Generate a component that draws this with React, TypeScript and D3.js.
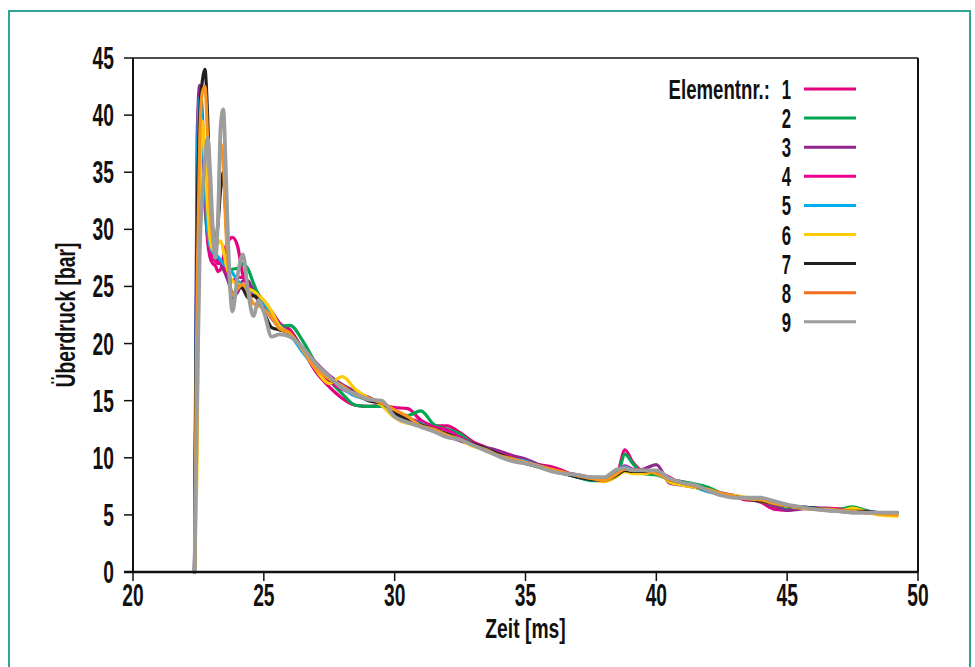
import * as d3 from 'd3';

// Zeitpunkte [ms]
const times = [
  22.35, 22.45, 22.55, 22.65, 22.75, 22.85, 22.95, 23.05, 23.15, 23.25, 23.35, 23.45, 23.55, 23.65,
  23.8, 24.0, 24.2, 24.4, 24.6, 24.8, 25.0, 25.3, 25.6,
  26.0, 26.5, 27.0, 27.5, 28.0, 28.5, 29.0, 29.5, 30.0, 30.5, 31.0, 31.5, 32.0, 32.5,
  33.0, 33.5, 34.0, 34.5, 35.0, 35.5, 36.0, 36.5, 37.0, 37.5, 38.0, 38.5,
  38.8, 39.1, 39.5,
  40.0, 40.5, 41.0, 41.5, 42.0, 42.5, 43.0, 43.5, 44.0, 44.5, 45.0, 45.5, 46.0, 46.5, 47.0, 47.5, 48.0, 48.5,
  49.2,
];

// Überdruck [bar] je Element
const element1 = [
  0, 30, 40, 38, 33, 29, 27.5, 27, 26.8, 26.3, 26.5, 27.5, 28.5, 29,
  29.3, 28.5, 26, 25.2, 24.8, 24.3, 23.6, 22.8, 21.8,
  21.2, 19.4, 17.5, 16.2, 15.2, 14.6, 14.5, 14.6, 14.4, 14.3, 13.3, 12.8, 12.8, 12.2,
  11.4, 10.9, 10.3, 9.8, 9.6, 9.4, 9.2, 8.8, 8.3, 8.1, 8.1, 8.6,
  10.7, 9.6, 8.8,
  8.6, 8.1, 7.9, 7.6, 7.2, 6.8, 6.6, 6.4, 6.1, 5.5, 5.4, 5.6, 5.5, 5.5, 5.4, 5.4, 5.2, 5.2,
  5.2,
];
const element2 = [
  0, 28, 39, 37, 32, 29.5, 28.5, 28, 27.8, 27.5, 27, 26.8, 26.5, 26.3,
  26.5, 26.6, 27, 26.5, 25.3, 24.2, 23.4, 22.5, 21.5,
  21.6, 20.2, 18.2, 16.8, 15.6, 14.6, 14.5, 14.5, 13.8, 13.7, 14.1, 12.9, 12.5, 12.1,
  11.2, 10.8, 10.2, 9.8, 9.5, 9.2, 8.9, 8.6, 8.3, 8.0, 8.0, 8.4,
  10.3, 9.5, 8.6,
  8.5, 8.1, 7.9, 7.7, 7.4, 6.9, 6.6, 6.4, 6.2, 5.8, 5.5, 5.6, 5.6, 5.5, 5.5, 5.7, 5.4, 5.2,
  5.2,
];
const element3 = [
  0, 38, 42.6, 40, 34, 30, 28.5, 28, 27.5, 27.2, 27, 26.5, 26, 25.4,
  24.2, 24.5, 25.5, 25.5, 24.5, 23.8, 23.3, 22.2, 21.4,
  20.9, 19.6, 18.3, 17.2, 16.4, 15.8, 15.3, 14.7, 13.9, 13.2, 12.9, 12.5, 11.9, 11.5,
  11.1, 10.9, 10.6, 10.2, 9.9, 9.4, 9.0, 8.7, 8.5, 8.3, 8.2, 8.6,
  9.0, 8.9, 9.0,
  9.4, 7.8, 7.6, 7.4, 7.2, 6.9, 6.7, 6.4, 6.2, 5.8, 5.4, 5.5, 5.6, 5.4, 5.3, 5.2, 5.2, 5.2,
  5.2,
];
const element4 = [
  0, 32, 41, 38, 33, 29.5, 28, 27.5, 27.2, 27, 27.2, 27, 26.5, 26,
  25.5, 25.8, 25.8, 25, 24.3, 23.8, 23.2, 22.4, 21.6,
  21.0, 19.5, 17.8, 16.7, 16.0, 15.6, 15.2, 14.7, 14.1, 13.5, 13.1, 12.7, 12.4, 11.8,
  11.2, 10.8, 10.4, 10.0, 9.6, 9.3, 8.9, 8.6, 8.4, 8.2, 8.1, 8.8,
  9.3, 9.0, 8.9,
  8.8, 8.3, 7.7, 7.5, 7.1, 6.8, 6.6, 6.3, 6.3, 6.0, 5.8, 5.7, 5.6, 5.6, 5.5, 5.4, 5.3, 5.2,
  5.2,
];
const element5 = [
  0, 35, 41.5, 39, 34, 30, 28.5, 28, 27.8, 27.6, 27.3, 27, 26.8, 26.6,
  26.2, 25.5, 25, 24.8, 24.5, 24, 23.5, 22.6, 21.6,
  20.8, 19.2, 17.9, 17.0, 16.1, 15.4, 15.1, 14.6, 13.8, 13.3, 13.0, 12.4, 12.1, 11.6,
  11.1, 10.8, 10.3, 9.9, 9.7, 9.3, 8.9, 8.6, 8.3, 8.1, 8.0, 8.9,
  9.2, 8.9, 8.8,
  8.7, 8.0, 7.7, 7.4, 7.0, 6.8, 6.6, 6.4, 6.2, 6.0, 5.8, 5.7, 5.6, 5.5, 5.4, 5.5, 5.3, 5.2,
  5.1,
];
const element6 = [
  0, 10, 33, 39.5, 36, 32, 29, 28.2, 28.5, 28.8, 29, 28.2, 27, 26.2,
  25.5, 25.2, 25, 24.8, 24.6, 24.2, 23.8, 22.8, 21.5,
  20.9, 19.4, 17.7, 16.5, 17.1, 16.0, 15.2, 14.6, 13.5, 13.0, 12.9, 12.3, 12.0, 11.6,
  11.0, 10.7, 10.2, 9.9, 9.5, 9.2, 8.8, 8.6, 8.4, 8.2, 7.9, 8.4,
  8.8, 8.6, 8.6,
  8.8, 7.9, 7.6, 7.4, 7.2, 6.8, 6.7, 6.5, 6.2, 6.0, 5.8, 5.6, 5.5, 5.4, 5.3, 5.6, 5.3, 5.0,
  4.9,
];
const element7 = [
  0, 30, 40, 43, 44, 40, 33, 30, 29, 30.5, 33.5, 35, 31, 27,
  24, 25, 24.8, 24, 24.2, 23.8, 22.8, 21.4, 21.2,
  20.9, 19.5, 17.9, 16.9, 16.2, 15.6, 15.0, 14.8, 13.9, 13.4, 12.9, 12.5, 12.1, 11.6,
  11.2, 10.8, 10.3, 9.9, 9.5, 9.2, 8.9, 8.6, 8.3, 8.1, 8.0, 8.5,
  8.9, 8.8, 8.8,
  8.7, 8.1, 7.8, 7.5, 7.1, 6.8, 6.6, 6.4, 6.2, 6.0, 5.8, 5.7, 5.6, 5.5, 5.4, 5.3, 5.3, 5.2,
  5.2,
];
const element8 = [
  0, 25, 38, 42, 42.5, 38, 32, 29, 28, 31, 37.5, 36, 30, 26.5,
  24.2, 24.8, 25.2, 24.5, 23.5, 23.3, 23.0, 22.3, 21.3,
  20.9, 19.4, 17.8, 16.9, 16.3, 15.5, 15.2, 14.8, 14.2, 13.6, 12.8, 12.5, 12.0, 11.6,
  11.1, 10.7, 10.2, 9.9, 9.6, 9.3, 9.0, 8.7, 8.4, 8.2, 8.0, 8.6,
  9.0, 8.9, 8.9,
  8.6, 8.1, 7.8, 7.5, 7.2, 6.9, 6.6, 6.4, 6.3, 6.0, 5.8, 5.7, 5.5, 5.5, 5.4, 5.3, 5.2, 5.1,
  5.0,
];
const element9 = [
  0, 15, 28, 33, 36, 38, 35, 30, 27.5, 31, 39, 40.5, 35, 28,
  22.8, 26, 27.8, 24.5, 22.4, 23.8, 22.8, 20.6, 20.8,
  20.6, 19.6, 18.2, 17.1, 16.1, 15.6, 15.1, 15.0, 13.6, 13.1, 12.7, 12.3, 11.8, 11.6,
  11.1, 10.6, 10.1, 9.7, 9.5, 9.2, 8.8, 8.6, 8.5, 8.3, 8.3, 9.0,
  9.1, 8.9, 8.9,
  8.9, 8.2, 7.8, 7.6, 7.1, 6.7, 6.5, 6.5, 6.5, 6.2, 5.9, 5.7, 5.5, 5.4, 5.3, 5.2, 5.2, 5.2,
  5.2,
];

const seriesNames = ['1', '2', '3', '4', '5', '6', '7', '8', '9'];
const seriesValues = [element1, element2, element3, element4, element5, element6, element7, element8, element9];
const seriesColors = ['#e5007d', '#00a650', '#92278f', '#ec008c', '#00aeef', '#ffcb05', '#231f20', '#f7941d', '#9d9d9d'];
const legendColors = ['#e5007d', '#00a650', '#92278f', '#ec008c', '#00aeef', '#ffcb05', '#231f20', '#f26f21', '#9d9d9d'];

const xTicks = [20, 25, 30, 35, 40, 45, 50];
const yTicks = [0, 5, 10, 15, 20, 25, 30, 35, 40, 45];

const FONT = "'Liberation Sans', Arial, sans-serif";
const DIGIT_SQUEEZE = 0.62;
const TEXT_SQUEEZE = 0.69;

function Label({ x, y, anchor, size, rotate, squeeze, children }: any) {
  return (
    <g transform={`translate(${x},${y})${rotate ? ` rotate(${rotate})` : ''} scale(${squeeze},1)`}>
      <text textAnchor={anchor} fontFamily={FONT} fontWeight="bold" fontSize={size} fill="#111">
        {children}
      </text>
    </g>
  );
}

export default function App() {
  const width = 975;
  const height = 667;
  const left = 133, right = 918, top = 58, bottom = 572;

  const x = d3.scaleLinear().domain([20, 50]).range([left, right]);
  const y = d3.scaleLinear().domain([0, 45]).range([bottom, top]);

  const line = d3.line<number>()
    .x((_, i) => x(times[i]))
    .y(d => y(d))
    .curve(d3.curveMonotoneX);

  const legendTop = 89;
  const legendStep = 29.1;

  return (
    <svg width={width} height={height} style={{ position: 'absolute', left: 0, top: 0, background: '#fff' }}>
      <rect x={9} y={11} width={961} height={680} fill="#fff" stroke="#2ea597" strokeWidth={2} />

      {/* Datenlinien */}
      <g fill="none" strokeLinejoin="round" strokeLinecap="round">
        {seriesValues.map((vals, i) => (
          <path key={seriesNames[i]} d={line(vals) || ''} stroke={seriesColors[i]}
            strokeWidth={i === 8 ? 3.8 : 3.2} />
        ))}
      </g>

      {/* Rahmen und Achsen */}
      <line x1={left} x2={right} y1={top} y2={top} stroke="#111" strokeWidth={1.5} />
      <line x1={right} x2={right} y1={top} y2={bottom} stroke="#111" strokeWidth={2} />
      <line x1={left} x2={left} y1={top} y2={bottom} stroke="#111" strokeWidth={2} />
      <line x1={left - 9} x2={right} y1={bottom} y2={bottom} stroke="#111" strokeWidth={2.5} />

      {yTicks.map(t => (
        <g key={'y' + t}>
          <line x1={left - 9} x2={left} y1={y(t)} y2={y(t)} stroke="#111" strokeWidth={1.5} />
          <Label x={114} y={y(t) + 11} anchor="end" size={31} squeeze={DIGIT_SQUEEZE}>{t}</Label>
        </g>
      ))}
      {xTicks.map(t => (
        <g key={'x' + t}>
          <line x1={x(t)} x2={x(t)} y1={bottom} y2={bottom + 9} stroke="#111" strokeWidth={1.5} />
          <Label x={x(t)} y={606} anchor="middle" size={31} squeeze={DIGIT_SQUEEZE}>{t}</Label>
        </g>
      ))}

      <Label x={(left + right) / 2} y={638} anchor="middle" size={28} squeeze={TEXT_SQUEEZE}>Zeit [ms]</Label>
      <Label x={75} y={(top + bottom) / 2} anchor="middle" size={28} rotate={-90} squeeze={TEXT_SQUEEZE}>Überdruck [bar]</Label>

      {/* Legende */}
      <Label x={770} y={legendTop + 10} anchor="end" size={27} squeeze={TEXT_SQUEEZE}>Elementnr.:</Label>
      {seriesNames.map((n, i) => (
        <g key={'l' + n}>
          <Label x={791} y={legendTop + i * legendStep + 10} anchor="end" size={27} squeeze={DIGIT_SQUEEZE}>{n}</Label>
          <line x1={804} x2={856} y1={legendTop + i * legendStep} y2={legendTop + i * legendStep}
            stroke={legendColors[i]} strokeWidth={3} />
        </g>
      ))}
    </svg>
  );
}
